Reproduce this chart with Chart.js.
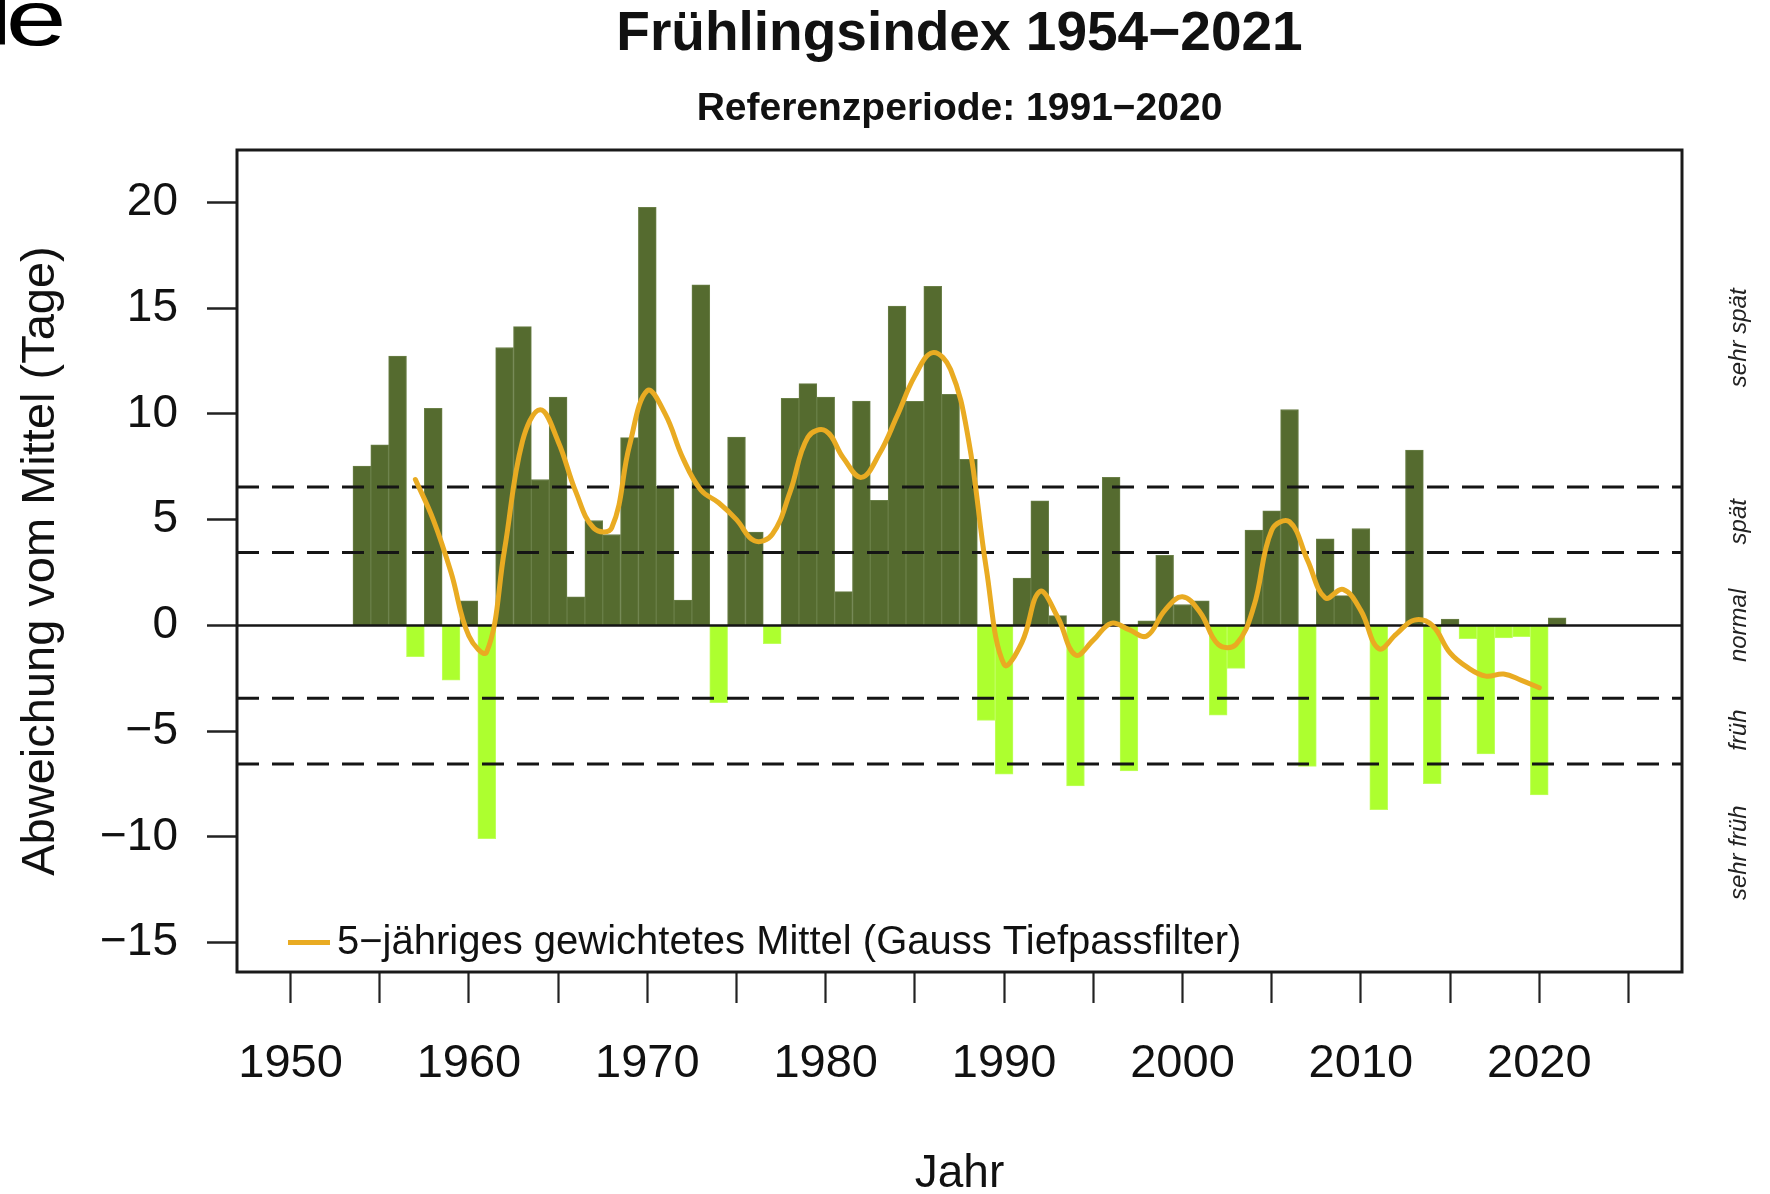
<!DOCTYPE html>
<html><head><meta charset="utf-8">
<script src="https://cdn.jsdelivr.net/npm/chart.js@4.4.0/dist/chart.umd.min.js"></script>
<style>
html,body{margin:0;padding:0;background:#fff;}
#wrap{position:relative;width:1770px;height:1194px;overflow:hidden;}
#c{display:block;}
#frag{position:absolute;left:-12px;top:-21px;font:78px/1 "Liberation Sans",Arial,sans-serif;color:#000;letter-spacing:-4.7px;transform:scaleX(1.4);transform-origin:0 0;white-space:nowrap;}
</style></head><body>
<div id="wrap"><canvas id="c" width="1770" height="1194"></canvas><div id="frag">le</div></div>
<script>
// ---- data ----
const years = [1954,1955,1956,1957,1958,1959,1960,1961,1962,1963,1964,1965,1966,1967,1968,1969,
  1970,1971,1972,1973,1974,1975,1976,1977,1978,1979,1980,1981,1982,1983,1984,1985,1986,1987,1988,1989,
  1990,1991,1992,1993,1994,1995,1996,1997,1998,1999,2000,2001,2002,2003,2004,2005,2006,2007,2008,2009,
  2010,2011,2012,2013,2014,2015,2016,2017,2018,2019,2020,2021];
const deviation = [7.53,8.54,12.74,-1.48,10.27,-2.59,1.16,-10.08,13.14,14.13,6.9,10.8,1.35,4.96,4.3,8.88,
  19.77,6.58,1.2,16.1,-3.65,8.9,4.41,-0.86,10.74,11.43,10.8,1.6,10.61,5.91,15.1,10.59,16.03,10.93,7.85,-4.49,
  -7.03,2.24,5.89,0.46,-7.59,0,7.0,-6.88,0.21,3.31,0.99,1.16,-4.24,-2.03,4.51,5.42,10.21,-6.67,4.09,1.41,
  4.58,-8.71,0,8.29,-7.49,0.3,-0.63,-6.08,-0.59,-0.53,-8.02,0.36];
const filterYears = [1957,1958,1959,1960,1961,1962,1963,1964,1965,1966,1967,1968,1969,
  1970,1971,1972,1973,1974,1975,1976,1977,1978,1979,1980,1981,1982,1983,1984,1985,1986,1987,1988,1989,
  1990,1991,1992,1993,1994,1995,1996,1997,1998,1999,2000,2001,2002,2003,2004,2005,2006,2007,2008,2009,
  2010,2011,2012,2013,2014,2015,2016,2017,2018,2019,2020];
const filterValues = [6.9,5.0,2.5,-0.5,-1.25,3.6,8.7,10.2,8.7,6.3,4.6,4.6,8.5,
  11.1,10.0,7.9,6.4,5.8,5.0,4.0,4.3,6.3,8.9,9.2,7.9,7.0,8.1,9.9,11.8,12.9,12.1,8.8,2.7,
  -1.85,-0.8,1.6,0.4,-1.4,-0.7,0.1,-0.2,-0.5,0.7,1.35,0.6,-0.9,-0.9,0.9,4.5,4.9,3.1,1.3,1.7,
  0.7,-1.1,-0.4,0.25,0.0,-1.3,-2.0,-2.4,-2.3,-2.6,-2.95];
const thresholds = [6.55, 3.45, -3.45, -6.55];
const zoneLabels = ['sehr spät', 'spät', 'normal', 'früh', 'sehr früh'];
const zoneLevels = [13.6, 4.9, 0, -4.95, -10.75];
const xRange = [1947, 2028];
const yRange = [-16.39, 22.48];
const titleText = 'Frühlingsindex 1954\u22122021';
const subtitleText = 'Referenzperiode: 1991\u22122020';
const yTitle = 'Abweichung vom Mittel (Tage)';
const xTitle = 'Jahr';
const legendText = '5\u2212jähriges gewichtetes Mittel (Gauss Tiefpassfilter)';
const legendLevel = -15;

// ---- styles ----
const FONT = '"Liberation Sans", Arial, Helvetica, sans-serif';
const POS = '#556B2F', NEG = '#ADFF2F', LINE = '#E9AB22', INK = '#111111';
Chart.defaults.font.family = FONT;
Chart.defaults.color = INK;

const barData = years.map((yr, i) => ({x: yr, y: deviation[i]}));
const filterData = filterYears.map((yr, i) => ({x: yr, y: filterValues[i]}));

const hLine = (v, dash, width) => ({
  type: 'line',
  data: [{x: xRange[0], y: v}, {x: xRange[1], y: v}],
  borderColor: '#151515', borderWidth: width, borderDash: dash,
  pointRadius: 0, order: 2, tension: 0
});

const decor = {
  id: 'decor',
  afterDatasetsDraw(chart) {
    const {ctx, chartArea: a, scales: {y}} = chart;
    ctx.save();
    // plot frame
    ctx.strokeStyle = '#1a1a1a';
    ctx.lineWidth = 3;
    ctx.strokeRect(a.left, a.top, a.right - a.left, a.bottom - a.top);
    // legend
    const ly = y.getPixelForValue(legendLevel);
    ctx.strokeStyle = LINE;
    ctx.lineWidth = 5;
    ctx.beginPath();
    ctx.moveTo(a.left + 51, ly);
    ctx.lineTo(a.left + 93, ly);
    ctx.stroke();
    ctx.fillStyle = INK;
    ctx.font = '40px ' + FONT;
    ctx.textAlign = 'left';
    ctx.textBaseline = 'middle';
    ctx.fillText(legendText, a.left + 100, ly + 0.5);
    // zone labels on the right
    ctx.font = 'italic 24px ' + FONT;
    ctx.fillStyle = '#222';
    ctx.textAlign = 'center';
    zoneLabels.forEach((t, i) => {
      const py = y.getPixelForValue(zoneLevels[i]);
      ctx.save();
      ctx.translate(a.right + 57, py);
      ctx.rotate(-Math.PI / 2);
      ctx.fillText(t, 0, 0);
      ctx.restore();
    });
    ctx.restore();
  }
};

new Chart(document.getElementById('c'), {
  type: 'bar',
  data: {
    datasets: [
      {
        type: 'line', data: filterData, borderColor: LINE, borderWidth: 5,
        pointRadius: 0, tension: 0.4, order: 1, borderCapStyle: 'round'
      },
      hLine(0, [], 2.5),
      ...thresholds.map(t => hLine(t, [22, 13], 3)),
      {
        type: 'bar', data: barData,
        backgroundColor: deviation.map(v => v >= 0 ? POS : NEG),
        borderColor: deviation.map(v => v >= 0 ? '#6a7f47' : '#c0ff5e'),
        borderWidth: 1, borderSkipped: 'start',
        barPercentage: 1, categoryPercentage: 1, order: 3
      }
    ]
  },
  options: {
    responsive: false,
    devicePixelRatio: 1,
    animation: false,
    events: [],
    layout: {padding: {top: 0, left: 0, right: 88, bottom: 0}},
    plugins: {
      legend: {display: false},
      tooltip: {enabled: false},
      title: {
        display: true, text: titleText, fullSize: false, color: INK,
        font: {size: 55, weight: 'bold', lineHeight: 1},
        padding: {top: 7.5, bottom: 27.5}
      },
      subtitle: {
        display: true, text: subtitleText, fullSize: false, color: INK,
        font: {size: 39, weight: 'bold', lineHeight: 1},
        padding: {top: 0, bottom: 21}
      }
    },
    scales: {
      x: {
        type: 'linear', min: xRange[0], max: xRange[1], offset: false,
        afterFit: s => { s.height = 222; },
        border: {display: false},
        grid: {drawOnChartArea: false, drawTicks: true, tickLength: 31, tickWidth: 2.2, tickColor: '#222', offset: false},
        ticks: {
          stepSize: 5, includeBounds: false, autoSkip: false, maxRotation: 0, minRotation: 0,
          padding: 33, color: INK, font: {size: 47},
          callback: v => (v % 10 === 0 ? String(v) : '')
        },
        title: {display: true, text: xTitle, color: INK, font: {size: 46, lineHeight: 0.8}, padding: {top: 0, bottom: 1.5}}
      },
      y: {
        type: 'linear', min: yRange[0], max: yRange[1],
        afterFit: s => { s.width = 237; },
        border: {display: false},
        grid: {drawOnChartArea: false, drawTicks: true, tickLength: 30, tickWidth: 2.5, tickColor: '#222'},
        ticks: {
          stepSize: 5, includeBounds: false, padding: 29, color: INK, font: {size: 46},
          callback: v => String(v).replace('-', '\u2212')
        },
        title: {display: true, text: yTitle, color: INK, font: {size: 47, lineHeight: 1}, padding: {top: 18, bottom: 0}}
      }
    }
  },
  plugins: [decor]
});
</script>
</body></html>
